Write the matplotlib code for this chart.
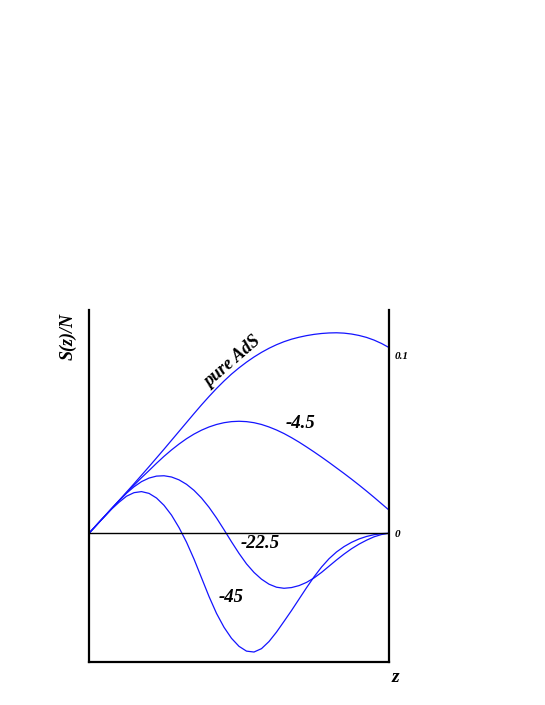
import matplotlib
matplotlib.use("Agg")
import matplotlib.pyplot as plt

plt.rcParams["font.family"] = ["Liberation Serif", "DejaVu Serif"]
plt.rcParams["font.weight"] = "bold"
plt.rcParams["font.style"] = "italic"

# z grid (step 0.025) and S(z)/N values
z = [i / 40 for i in range(41)]

s_pure = [0.0, 0.0046, 0.0092, 0.0138, 0.0184, 0.0231, 0.0278, 0.0326,
          0.0374, 0.0423, 0.0472, 0.0522, 0.0572, 0.0622, 0.0672, 0.0721,
          0.0768, 0.0813, 0.0855, 0.0894, 0.0929, 0.0961, 0.0990, 0.1016,
          0.1039, 0.1059, 0.1076, 0.1090, 0.1101, 0.1110, 0.1117, 0.1122,
          0.1125, 0.1126, 0.1124, 0.1119, 0.1111, 0.1100, 0.1085, 0.1066,
          0.1043]
s_m4_5 = [0.0, 0.0046, 0.0092, 0.0138, 0.0183, 0.0227, 0.0270, 0.0312,
          0.0352, 0.0393, 0.0432, 0.0468, 0.0501, 0.0531, 0.0557, 0.0579,
          0.0597, 0.0611, 0.0621, 0.0627, 0.0629, 0.0627, 0.0621, 0.0611,
          0.0597, 0.0580, 0.0560, 0.0537, 0.0512, 0.0485, 0.0457, 0.0428,
          0.0398, 0.0367, 0.0336, 0.0304, 0.0271, 0.0237, 0.0202, 0.0166,
          0.0130]
s_m22_5 = [0.0, 0.0046, 0.0092, 0.0138, 0.0183, 0.0225, 0.0261, 0.0290,
           0.0310, 0.0321, 0.0323, 0.0316, 0.0300, 0.0275, 0.0241, 0.0198,
           0.0146, 0.0086, 0.0020, -0.0048, -0.0113, -0.0172, -0.0220,
           -0.0258, -0.0286, -0.0303, -0.0309, -0.0305, -0.0294, -0.0276,
           -0.0251, -0.0220, -0.0185, -0.0150, -0.0117, -0.0087, -0.0061,
           -0.0039, -0.0020, -0.0007, 0.0]
s_m45 = [0.0, 0.0046, 0.0091, 0.0135, 0.0174, 0.0208, 0.0228, 0.0234,
         0.0224, 0.0198, 0.0157, 0.0102, 0.0032, -0.0050, -0.0145, -0.0250,
         -0.0355, -0.0450, -0.0528, -0.0590, -0.0635, -0.0662, -0.0667,
         -0.0648, -0.0608, -0.0555, -0.0495, -0.0434, -0.0370, -0.0306,
         -0.0245, -0.0190, -0.0143, -0.0105, -0.0075, -0.0051, -0.0032,
         -0.0018, -0.0008, -0.0002, 0.0]

yticks = [0.0, 0.1]
yticklabels = ["0", "0.1"]

fig = plt.figure(figsize=(5.45, 7.05), dpi=100)
ax = fig.add_axes([0.1633, 0.0610, 0.5505, 0.4993])

for s in (s_pure, s_m4_5, s_m22_5, s_m45):
    ax.plot(z, s, color="#1414ff", linewidth=0.9)

ax.axhline(0.0, color="black", linewidth=1.0)

ax.set_xlim(0, 1)
ax.set_ylim(-0.0723, 0.1254)

ax.spines["top"].set_visible(False)
for side in ("left", "right", "bottom"):
    ax.spines[side].set_linewidth(1.6)

ax.set_xticks([])
ax.yaxis.tick_right()
ax.set_yticks(yticks)
ax.set_yticklabels(yticklabels, fontsize=8)
ax.tick_params(axis="y", length=0, pad=4)

# axis labels
fig.text(68 / 545, 1 - 337 / 705, "S(z)/N", rotation=90, fontsize=13,
         ha="center", va="center")
fig.text(395 / 545, 1 - 677 / 705, "z", fontsize=14, ha="center", va="center")

# curve labels
ax.annotate("pure AdS", xy=(233, 705 - 362), xycoords="figure pixels",
            rotation=41, fontsize=13, ha="center", va="center")
ax.annotate("-4.5", xy=(300, 705 - 424), xycoords="figure pixels",
            fontsize=13.5, ha="center", va="center")
ax.annotate("-22.5", xy=(260, 705 - 544), xycoords="figure pixels",
            fontsize=13.5, ha="center", va="center")
ax.annotate("-45", xy=(231, 705 - 597), xycoords="figure pixels",
            fontsize=13.5, ha="center", va="center")

fig.savefig("out.png", dpi=100)
